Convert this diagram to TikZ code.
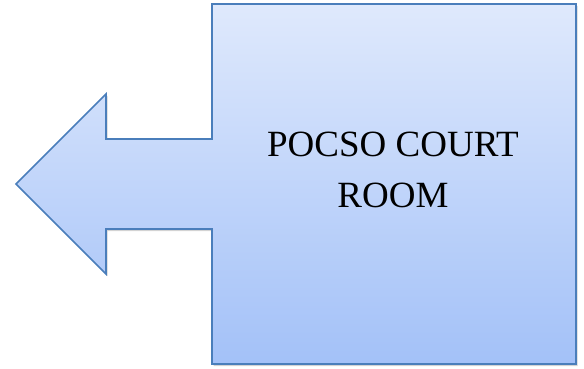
\documentclass[tikz,border=0pt]{standalone}
\usepackage{fontspec}
\setmainfont{Liberation Serif}
\usetikzlibrary{shadows}
\definecolor{edgeblue}{HTML}{4A7EBB}
\definecolor{topblue}{HTML}{DFE9FC}
\definecolor{botblue}{HTML}{A3C1F8}
\tikzset{
  callout/.style={draw=edgeblue, line width=1.6pt, line join=miter,
    top color=topblue, bottom color=botblue,
    drop shadow={opacity=0.35, shadow xshift=1.5pt, shadow yshift=-2pt}},
  label/.style={font=\fontsize{37}{40}\selectfont, text=black, inner sep=0pt}
}
\begin{document}
\begin{tikzpicture}[x=1pt, y=-1pt]
\useasboundingbox (0,0) rectangle (584,369);
\coordinate (tip) at (16,184);
\coordinate (htop) at (106,94);
\coordinate (stop) at (106,139);
\coordinate (rtl) at (212,4);
\coordinate (rbr) at (576,364);
\coordinate (hbot) at (106,274);
\coordinate (sbot) at (106,229);
\path[callout] (tip) -- (htop) -- (stop) -- (212,139) -- (rtl) -- (576,4) -- (rbr)
  -- (212,364) -- (212,229) -- (sbot) -- (hbot) -- cycle;
\node[label, anchor=base] (t1) at (393,156) {POCSO COURT};
\node[label, anchor=base] (t2) at (393,207) {ROOM};
\end{tikzpicture}
\end{document}
